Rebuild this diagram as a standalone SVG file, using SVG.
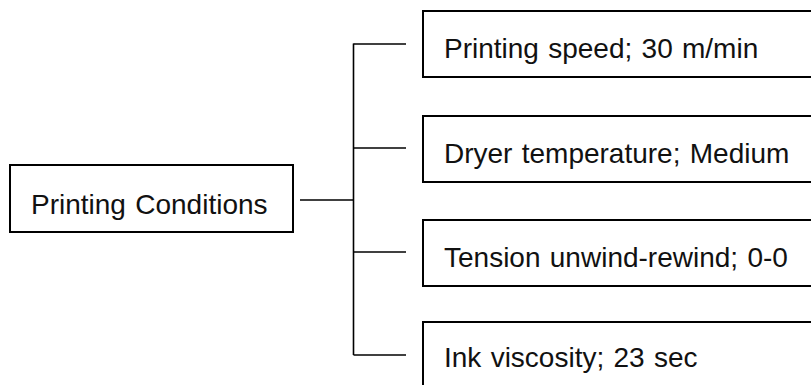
<svg xmlns="http://www.w3.org/2000/svg" width="811" height="385" viewBox="0 0 811 385">
  <style>
    .box { fill: #ffffff; stroke: #000000; stroke-width: 2; }
    .label { font-family: "Liberation Sans", Arial, sans-serif; font-size: 28px; word-spacing: 1.5px; fill: #111111; }
    .wire { fill: none; stroke: #000000; stroke-width: 1.6; }
  </style>
  <rect width="811" height="385" fill="#ffffff"/>

  <!-- tree connectors -->
  <g id="connectors">
    <line class="wire" x1="300" y1="200" x2="353.5" y2="200"/>
    <line class="wire" x1="353.5" y1="43.5" x2="353.5" y2="355"/>
    <line class="wire" x1="353.5" y1="44" x2="406" y2="44"/>
    <line class="wire" x1="353.5" y1="148" x2="406" y2="148"/>
    <line class="wire" x1="353.5" y1="252" x2="406" y2="252"/>
    <line class="wire" x1="353.5" y1="355" x2="406" y2="355"/>
  </g>

  <g id="root">
    <rect class="box" x="10" y="165" width="283" height="67"/>
    <text class="label" x="31" y="214">Printing Conditions</text>
  </g>

  <g id="speed">
    <rect class="box" x="423" y="11" width="400" height="66"/>
    <text class="label" x="444" y="58">Printing speed; 30 m/min</text>
  </g>

  <g id="dryer">
    <rect class="box" x="423" y="116" width="400" height="66"/>
    <text class="label" x="444" y="163">Dryer temperature; Medium</text>
  </g>

  <g id="tension">
    <rect class="box" x="423" y="220" width="400" height="66"/>
    <text class="label" x="444" y="267">Tension unwind-rewind; 0-0</text>
  </g>

  <g id="viscosity">
    <rect class="box" x="423" y="322" width="400" height="80"/>
    <text class="label" x="444" y="367">Ink viscosity; 23 sec</text>
  </g>
</svg>
